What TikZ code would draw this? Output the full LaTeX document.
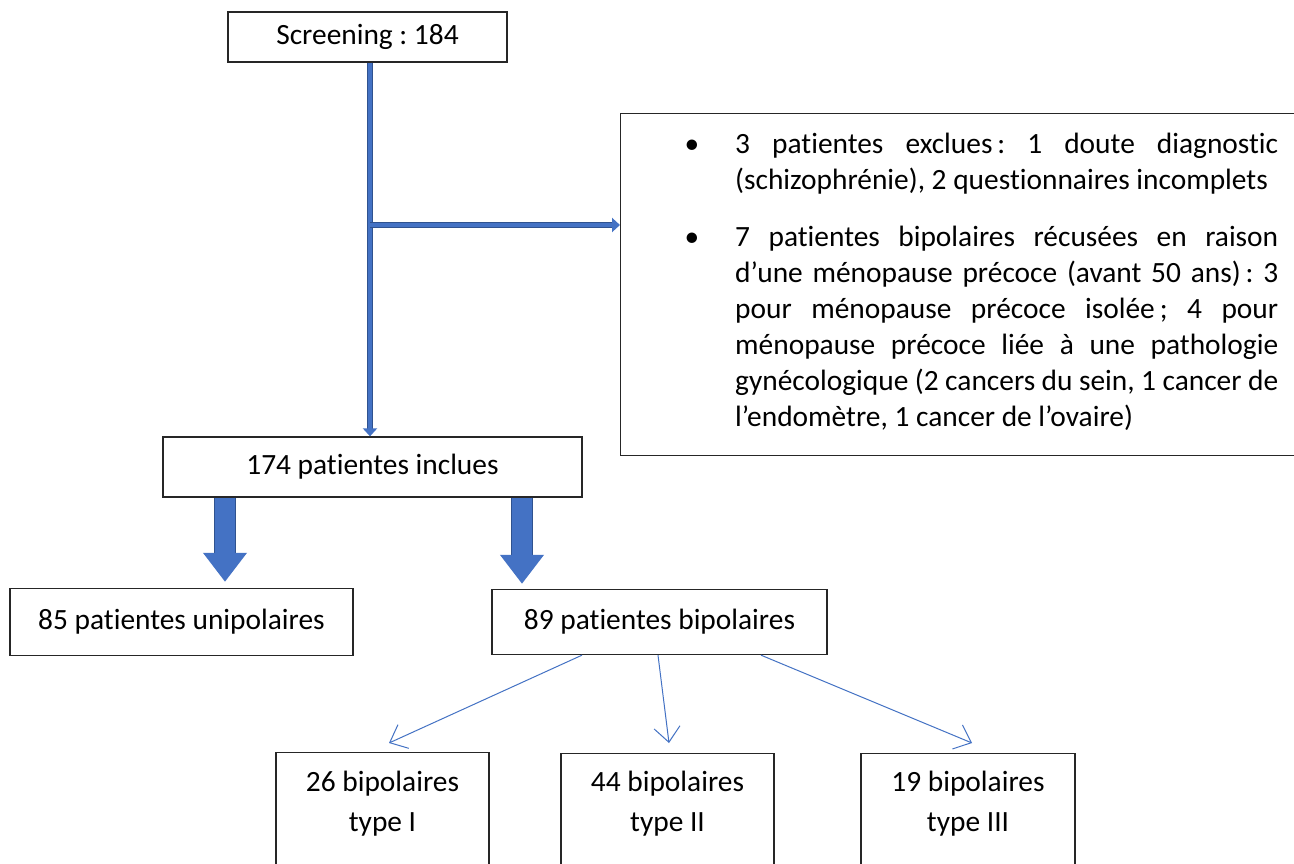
\documentclass[tikz,border=0pt]{standalone}
\usepackage{fontspec}
\setmainfont{Carlito}[Ligatures=NoCommon]
\usetikzlibrary{arrows.meta,positioning}
\definecolor{flowblue}{HTML}{4472C4}
\definecolor{flowdark}{HTML}{2F528F}
\hyphenpenalty=10000
\exhyphenpenalty=10000
\frenchspacing
\tikzset{
  box/.style={draw=black!85,line width=1.3pt,fill=white,inner sep=0pt},
  listtext/.style={inner sep=0pt,text width=543pt,align=justify},
  typetext/.style={align=center,font=\fontsize{29.4}{40}\selectfont},
  trunkline/.style={flowblue,line width=4.5pt,
    preaction={draw=flowdark,line width=6.5pt,shorten >=7pt,-},
    -{Triangle[width=14pt,length=8pt]}},
  fatarrow/.style={flowblue,line width=20pt,
    preaction={draw=flowdark,line width=22pt,shorten >=29pt,-},
    -{Triangle[width=42pt,length=29pt]}},
  thinarrow/.style={flowblue,line width=1pt,-{Straight Barb[length=15pt,width=26pt]}}
}
\begin{document}
\begin{tikzpicture}[x=1pt,y=-1pt,every node/.style={font=\fontsize{29.4}{36}\selectfont}]
  \clip (0,0) rectangle (1294,863);
  \fill[white] (0,0) rectangle (1294,863);
  % boxes
  \node[box,minimum width=279,minimum height=50] (scr) at (367.5,37) {Screening : 184};
  \node[box,minimum width=700,minimum height=342,anchor=north west] (excl) at (620,113) {};
  \node[box,minimum width=419,minimum height=60] (incl) at (372.5,467) {174 patientes inclues};
  \node[box,minimum width=343,minimum height=67] (unip) at (181.5,622) {85 patientes unipolaires};
  \node[box,minimum width=335,minimum height=65] (bip) at (659.5,622) {89 patientes bipolaires};
  \node[box,minimum width=213,minimum height=140,anchor=north] (ty1) at (382.5,752) {};
  \node[box,minimum width=213,minimum height=140,anchor=north] (ty2) at (667.5,753) {};
  \node[box,minimum width=214,minimum height=140,anchor=north] (ty3) at (968,753) {};
  \node[typetext] (ty1t) at (382.5,804) {26 bipolaires\\type I};
  \node[typetext] (ty2t) at (667.5,804) {44 bipolaires\\type II};
  \node[typetext] (ty3t) at (968,804) {19 bipolaires\\type III};
  % exclusions
  \node[anchor=base] (bul1) at (692,153) {\textbullet};
  \node[listtext,anchor=base west] (ex1) at (735,153) {3 patientes exclues\,: 1 doute diagnostic\linebreak (schizophrénie), 2 questionnaires incomplets};
  \node[anchor=base] (bul2) at (692,246) {\textbullet};
  \node[listtext,anchor=base west] (ex2) at (735,246) {7 patientes bipolaires récusées en raison\linebreak d’une ménopause précoce (avant 50 ans)\,: 3\linebreak pour ménopause précoce isolée\,; 4 pour\linebreak ménopause précoce liée à une pathologie\linebreak gynécologique (2 cancers du sein, 1 cancer de\linebreak l’endomètre, 1 cancer de l’ovaire)};
  % connectors
  \coordinate (trunk) at (370,225);
  \draw[trunkline] (scr.south -| trunk) -- (incl.north -| trunk);
  \draw[trunkline] (trunk) -- (excl.west |- trunk);
  \draw[fatarrow,shorten >=6pt] (incl.south -| 225,0) -- (unip.north -| 225,0);
  \draw[fatarrow,shorten >=5pt] (incl.south -| 522,0) -- (bip.north -| 522,0);
  \coordinate (end1) at (389,743);
  \coordinate (end2) at (669,743);
  \coordinate (end3) at (972,743);
  \draw[thinarrow] (bip.south -| 582,0) -- (end1);
  \draw[thinarrow] (bip.south -| 658,0) -- (end2);
  \draw[thinarrow] (bip.south -| 761,0) -- (end3);
\end{tikzpicture}
\end{document}
